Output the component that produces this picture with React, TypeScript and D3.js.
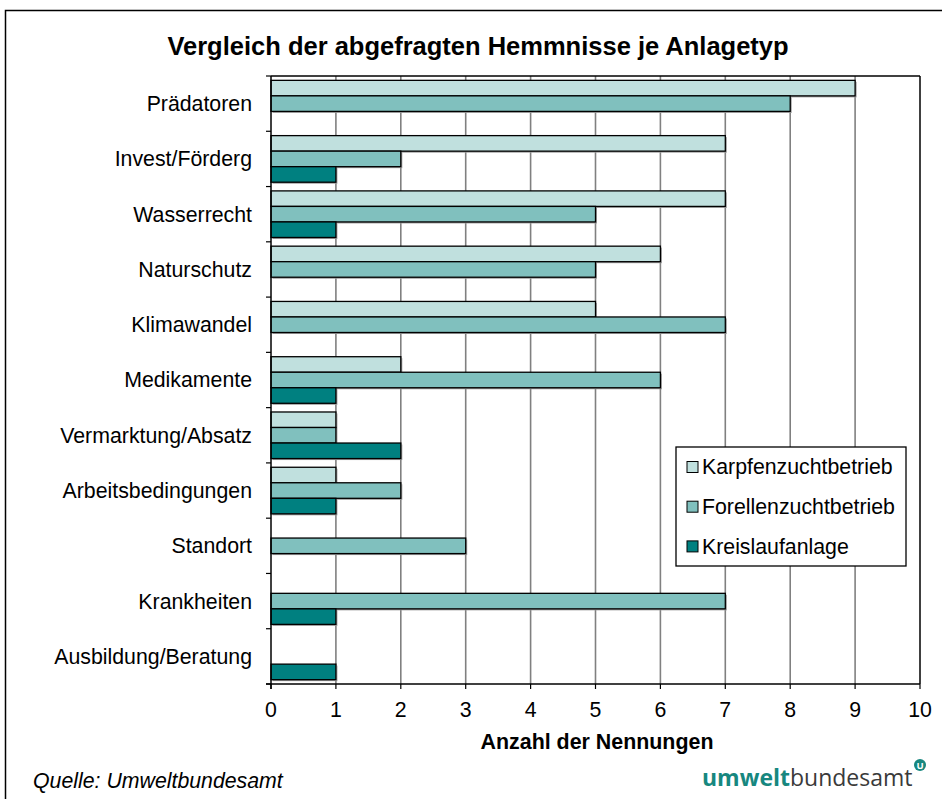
import React from "react";
import { scaleLinear, scaleBand, range } from "d3";

const categories = [
  "Prädatoren",
  "Invest/Förderg",
  "Wasserrecht",
  "Naturschutz",
  "Klimawandel",
  "Medikamente",
  "Vermarktung/Absatz",
  "Arbeitsbedingungen",
  "Standort",
  "Krankheiten",
  "Ausbildung/Beratung",
];

const seriesNames = ["Karpfenzuchtbetrieb", "Forellenzuchtbetrieb", "Kreislaufanlage"];
const seriesColors = ["#c0e0de", "#80c0be", "#008080"];

const karpfen = [9, 7, 7, 6, 5, 2, 1, 1, 0, 0, 0];
const forellen = [8, 2, 5, 5, 7, 6, 1, 2, 3, 7, 0];
const kreislauf = [0, 1, 1, 0, 0, 1, 2, 1, 0, 1, 1];
const seriesValues = [karpfen, forellen, kreislauf];

const xTicks = range(0, 11);

const W = 942;
const H = 799;
const plot = { left: 271, right: 920, top: 76, bottom: 684 };

export default function App() {
  const xScale = scaleLinear().domain([0, 10]).range([plot.left, plot.right]);
  const yScale = scaleBand<string>()
    .domain(categories)
    .range([plot.top, plot.bottom]);
  const inner = scaleBand<number>()
    .domain([0, 1, 2])
    .range([0, yScale.bandwidth()])
    .paddingInner(0)
    .paddingOuter(0.28);

  const font = "Arial, 'Liberation Sans', sans-serif";
  const fs = 21.3;

  const bars = categories.map((c, i) => (
    <g key={c}>
      {seriesValues.map((vals, s) =>
        vals[i] > 0 ? (
          <g key={s}>
            <rect
              x={xScale(0) + 1.5}
              y={yScale(c)! + inner(s)! + 1.5}
              width={xScale(vals[i]) - xScale(0)}
              height={inner.bandwidth()}
              fill="#9a9a9a"
            />
            <rect
              x={xScale(0)}
              y={yScale(c)! + inner(s)!}
              width={xScale(vals[i]) - xScale(0)}
              height={inner.bandwidth()}
              fill={seriesColors[s]}
              stroke="#000"
              strokeWidth={1.3}
            />
          </g>
        ) : null
      )}
    </g>
  ));

  const grid = xTicks.slice(1, 10).map((t) => (
    <line
      key={t}
      x1={xScale(t)}
      x2={xScale(t)}
      y1={plot.top}
      y2={plot.bottom}
      stroke="#808080"
      strokeWidth={1.6}
    />
  ));

  const yTickLines = range(0, categories.length + 1).map((i) => {
    const y = plot.top + i * yScale.step();
    return <line key={i} x1={plot.left - 5} x2={plot.left} y1={y} y2={y} stroke="#000" strokeWidth={1.2} />;
  });

  const legendX = 676;
  const legendY = 447;

  return (
    <svg
      width={W}
      height={H}
      viewBox={`0 0 ${W} ${H}`}
      style={{ position: "absolute", left: 0, top: 0, background: "#fff" }}
      fontFamily={font}
    >
      <rect x={0} y={0} width={W} height={H} fill="#fff" />
      <rect x={5.5} y={10.5} width={W + 20} height={H + 20} fill="none" stroke="#000" strokeWidth={1.5} />

      <text x={478} y={55} textAnchor="middle" fontSize={25.5} fontWeight="bold" fill="#000">
        Vergleich der abgefragten Hemmnisse je Anlagetyp
      </text>

      {grid}
      {bars}

      {/* plot frame */}
      <line x1={plot.left} x2={plot.right} y1={plot.top} y2={plot.top} stroke="#000" strokeWidth={1.5} />
      <line x1={plot.right} x2={plot.right} y1={plot.top} y2={plot.bottom} stroke="#000" strokeWidth={1.5} />
      <line x1={plot.left} x2={plot.left} y1={plot.top} y2={plot.bottom + 5} stroke="#000" strokeWidth={1.5} />
      <line x1={plot.left - 5} x2={plot.right} y1={plot.bottom} y2={plot.bottom} stroke="#000" strokeWidth={1.5} />
      {yTickLines}

      {xTicks.map((t) => (
        <g key={t}>
          <line x1={xScale(t)} x2={xScale(t)} y1={plot.bottom} y2={plot.bottom + 5} stroke="#000" strokeWidth={1.2} />
          <text x={xScale(t)} y={717} textAnchor="middle" fontSize={fs} fill="#000">
            {t}
          </text>
        </g>
      ))}

      {categories.map((c) => (
        <text
          key={c}
          x={252}
          y={yScale(c)! + yScale.bandwidth() / 2}
          dy="0.35em"
          textAnchor="end"
          fontSize={fs}
          fill="#000"
        >
          {c}
        </text>
      ))}

      <text x={597} y={749} textAnchor="middle" fontSize={21.4} fontWeight="bold" fill="#000">
        Anzahl der Nennungen
      </text>

      {/* legend */}
      <rect x={legendX} y={legendY} width={230} height={119} fill="#fff" stroke="#000" strokeWidth={1.3} />
      {seriesNames.map((n, i) => {
        const cy = legendY + 20 + i * 39.7;
        return (
          <g key={n}>
            <rect x={legendX + 11} y={cy - 5.5} width={11} height={11} fill={seriesColors[i]} stroke="#000" strokeWidth={1} />
            <text x={legendX + 26} y={cy} dy="0.35em" fontSize={fs} fill="#000">
              {n}
            </text>
          </g>
        );
      })}

      <text x={33} y={788} fontSize={fs} fontStyle="italic" fill="#000">
        Quelle: Umweltbundesamt
      </text>

      {/* logo */}
      <text x={702} y={786} fontSize={23} fontFamily="'Open Sans', sans-serif">
        <tspan fill="#17877f" fontWeight="bold">umwelt</tspan>
        <tspan fill="#3a3a3a">bundesamt</tspan>
      </text>
      <circle cx={920} cy={765} r={6} fill="#17877f" />
      <text x={920} y={768.5} textAnchor="middle" fontSize={9.5} fontWeight="bold" fill="#fff" fontFamily="'Open Sans', sans-serif">
        U
      </text>
    </svg>
  );
}
